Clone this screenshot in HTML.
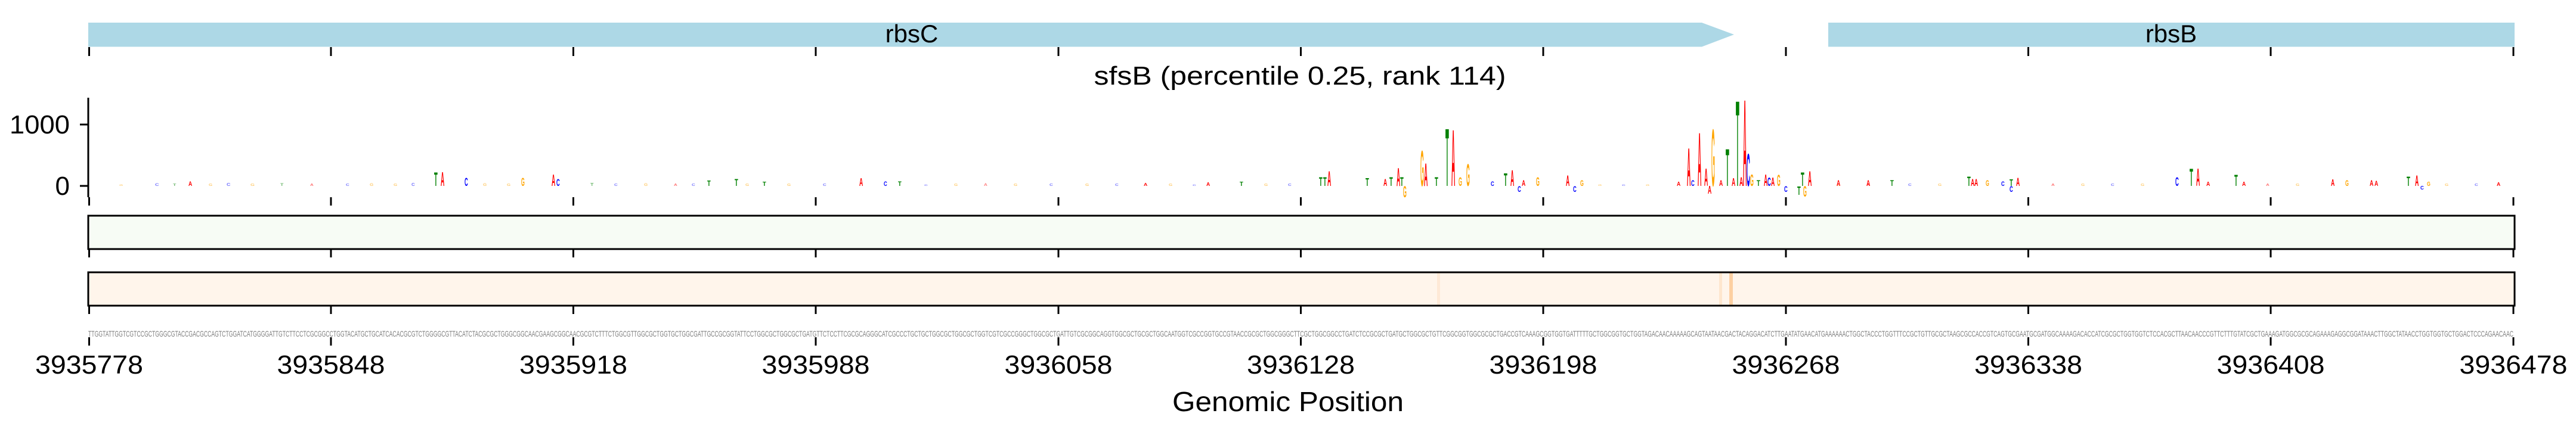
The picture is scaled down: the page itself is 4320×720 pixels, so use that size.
<!DOCTYPE html>
<html><head><meta charset="utf-8"><style>
html,body{margin:0;padding:0;background:#fff;}
svg{display:block;}
.lg text{font-family:"Liberation Sans",sans-serif;font-size:100px;font-weight:bold;}
.lab{font-family:"Liberation Sans","DejaVu Sans",sans-serif;fill:#000;}
</style></head><body>
<svg width="4320" height="720" viewBox="0 0 4320 720" xmlns="http://www.w3.org/2000/svg">
<!-- gene track -->
<polygon points="148,38 2854,38 2908,58 2854,78.5 148,78.5" fill="#add8e6"/>
<rect x="3066" y="38" width="1151" height="40.5" fill="#add8e6"/>
<text class="lab" x="1529" y="71" font-size="42" text-anchor="middle">rbsC</text>
<text class="lab" x="3641" y="71" font-size="42" text-anchor="middle">rbsB</text>
<g stroke="#000" stroke-width="3">
<path d="M149.5,79v15M555,79v15M961.5,79v15M1368,79v15M1775,79v15M2181.5,79v15M2588,79v15M2995,79v15M3401.5,79v15M3808,79v15M4215,79v15"/>
</g>
<text class="lab" x="2180" y="142" font-size="44" text-anchor="middle" textLength="691" lengthAdjust="spacingAndGlyphs">sfsB (percentile 0.25, rank 114)</text>
<!-- logo axis -->
<g stroke="#000" stroke-width="3">
<path d="M148,164V331"/>
<path d="M134,209h14M134,312h14"/>
<path d="M149.5,331v14M555,331v14M961.5,331v14M1368,331v14M1775,331v14M2181.5,331v14M2588,331v14M2995,331v14M3401.5,331v14M3808,331v14M4215,331v14"/>
</g>
<text class="lab" x="117" y="224" font-size="44" text-anchor="end" textLength="101" lengthAdjust="spacingAndGlyphs">1000</text>
<text class="lab" x="117" y="327" font-size="44" text-anchor="end">0</text>
<!-- noise -->
<g class="lg" opacity="0.55">
<text transform="translate(200,312) scale(0.08,0.04)" fill="#ffa500">G</text>
<text transform="translate(260,312) scale(0.09,0.06)" fill="#0000ff">C</text>
<text transform="translate(290,312) scale(0.09,0.05)" fill="#008000">T</text>
<text transform="translate(350,312) scale(0.08,0.05)" fill="#ffa500">G</text>
<text transform="translate(380,312) scale(0.09,0.07)" fill="#0000ff">C</text>
<text transform="translate(420,312) scale(0.09,0.05)" fill="#ffa500">G</text>
<text transform="translate(470,312) scale(0.09,0.06)" fill="#008000">T</text>
<text transform="translate(520,312) scale(0.08,0.05)" fill="#ff0000">A</text>
<text transform="translate(580,312) scale(0.08,0.05)" fill="#0000ff">C</text>
<text transform="translate(620,312) scale(0.08,0.06)" fill="#ffa500">G</text>
<text transform="translate(660,312) scale(0.08,0.05)" fill="#ffa500">G</text>
<text transform="translate(690,312) scale(0.08,0.07)" fill="#0000ff">C</text>
<text transform="translate(810,312) scale(0.08,0.06)" fill="#ffa500">G</text>
<text transform="translate(850,312) scale(0.08,0.05)" fill="#ffa500">G</text>
<text transform="translate(990,312) scale(0.09,0.07)" fill="#008000">T</text>
<text transform="translate(1030,312) scale(0.08,0.05)" fill="#0000ff">C</text>
<text transform="translate(1080,312) scale(0.08,0.06)" fill="#ffa500">G</text>
<text transform="translate(1130,312) scale(0.08,0.05)" fill="#ff0000">A</text>
<text transform="translate(1160,312) scale(0.08,0.05)" fill="#0000ff">C</text>
<text transform="translate(1250,312) scale(0.08,0.05)" fill="#ffa500">G</text>
<text transform="translate(1320,312) scale(0.08,0.05)" fill="#ffa500">G</text>
<text transform="translate(1380,312) scale(0.08,0.05)" fill="#0000ff">C</text>
<text transform="translate(1550,312) scale(0.08,0.04)" fill="#0000ff">C</text>
<text transform="translate(1600,312) scale(0.08,0.05)" fill="#ffa500">G</text>
<text transform="translate(1650,312) scale(0.08,0.06)" fill="#ff0000">A</text>
<text transform="translate(1700,312) scale(0.08,0.05)" fill="#ffa500">G</text>
<text transform="translate(1760,312) scale(0.08,0.05)" fill="#0000ff">C</text>
<text transform="translate(1820,312) scale(0.08,0.05)" fill="#ffa500">G</text>
<text transform="translate(1870,312) scale(0.08,0.05)" fill="#0000ff">C</text>
<text transform="translate(1960,312) scale(0.08,0.05)" fill="#ffa500">G</text>
<text transform="translate(2000,312) scale(0.08,0.04)" fill="#0000ff">C</text>
<text transform="translate(2120,312) scale(0.08,0.05)" fill="#ffa500">G</text>
<text transform="translate(2160,312) scale(0.08,0.05)" fill="#0000ff">C</text>
<text transform="translate(2680,312) scale(0.08,0.04)" fill="#ffa500">G</text>
<text transform="translate(2720,312) scale(0.08,0.04)" fill="#0000ff">C</text>
<text transform="translate(2760,312) scale(0.08,0.04)" fill="#ffa500">G</text>
<text transform="translate(3080,312) scale(0.08,0.05)" fill="#ffa500">G</text>
<text transform="translate(3130,312) scale(0.08,0.05)" fill="#ff0000">A</text>
<text transform="translate(3200,312) scale(0.08,0.05)" fill="#0000ff">C</text>
<text transform="translate(3250,312) scale(0.08,0.05)" fill="#ffa500">G</text>
<text transform="translate(3440,312) scale(0.08,0.05)" fill="#ff0000">A</text>
<text transform="translate(3490,312) scale(0.08,0.05)" fill="#ffa500">G</text>
<text transform="translate(3540,312) scale(0.08,0.05)" fill="#0000ff">C</text>
<text transform="translate(3590,312) scale(0.08,0.05)" fill="#ffa500">G</text>
<text transform="translate(3800,312) scale(0.08,0.05)" fill="#ff0000">A</text>
<text transform="translate(3850,312) scale(0.08,0.05)" fill="#ffa500">G</text>
<text transform="translate(4100,312) scale(0.08,0.05)" fill="#ffa500">G</text>
<text transform="translate(4150,312) scale(0.08,0.05)" fill="#0000ff">C</text>
</g>
<!-- peaks -->
<g class="lg">
<text transform="translate(316,312) scale(0.087,0.112)" fill="#ff0000">A</text>
<text transform="translate(728,312) scale(0.095,0.321)" fill="#008000">T</text>
<text transform="translate(739,312) scale(0.087,0.335)" fill="#ff0000">A</text>
<text transform="translate(779,312) scale(0.08,0.196)" fill="#0000ff">C</text>
<text transform="translate(874,312) scale(0.075,0.196)" fill="#ffa500">G</text>
<text transform="translate(925,312) scale(0.087,0.279)" fill="#ff0000">A</text>
<text transform="translate(933,312) scale(0.08,0.168)" fill="#0000ff">C</text>
<text transform="translate(1186,312) scale(0.095,0.126)" fill="#008000">T</text>
<text transform="translate(1232,312) scale(0.095,0.168)" fill="#008000">T</text>
<text transform="translate(1279,312) scale(0.095,0.098)" fill="#008000">T</text>
<text transform="translate(1441,312) scale(0.087,0.182)" fill="#ff0000">A</text>
<text transform="translate(1482,312) scale(0.08,0.112)" fill="#0000ff">C</text>
<text transform="translate(1506,312) scale(0.095,0.112)" fill="#008000">T</text>
<text transform="translate(1918,312) scale(0.087,0.07)" fill="#ff0000">A</text>
<text transform="translate(2023,312) scale(0.087,0.084)" fill="#ff0000">A</text>
<text transform="translate(2079,312) scale(0.095,0.098)" fill="#008000">T</text>
<text transform="translate(2212,312) scale(0.095,0.21)" fill="#008000">T</text>
<text transform="translate(2219,312) scale(0.095,0.21)" fill="#008000">T</text>
<text transform="translate(2226,312) scale(0.087,0.349)" fill="#ff0000">A</text>
<text transform="translate(2290,312) scale(0.095,0.182)" fill="#008000">T</text>
<text transform="translate(2320,312) scale(0.087,0.168)" fill="#ff0000">A</text>
<text transform="translate(2330,312) scale(0.095,0.21)" fill="#008000">T</text>
<text transform="translate(2342,312) scale(0.087,0.433)" fill="#ff0000">A</text>
<text transform="translate(2348,312) scale(0.095,0.21)" fill="#008000">T</text>
<text transform="translate(2353,331) scale(0.075,0.265)" fill="#ffa500">G</text>
<text transform="translate(2382,312) scale(0.075,0.852)" fill="#ffa500">G</text>
<text transform="translate(2388,312) scale(0.087,0.545)" fill="#ff0000">A</text>
<text transform="translate(2406,312) scale(0.095,0.21)" fill="#008000">T</text>
<text transform="translate(2424,312) scale(0.095,1.383)" fill="#008000">T</text>
<text transform="translate(2434,312) scale(0.087,1.355)" fill="#ff0000">A</text>
<text transform="translate(2446,312) scale(0.075,0.21)" fill="#ffa500">G</text>
<text transform="translate(2459,312) scale(0.075,0.531)" fill="#ffa500">G</text>
<text transform="translate(2500,312) scale(0.08,0.112)" fill="#0000ff">C</text>
<text transform="translate(2522,312) scale(0.095,0.307)" fill="#008000">T</text>
<text transform="translate(2533,312) scale(0.087,0.377)" fill="#ff0000">A</text>
<text transform="translate(2545,322) scale(0.08,0.14)" fill="#0000ff">C</text>
<text transform="translate(2552,312) scale(0.087,0.14)" fill="#ff0000">A</text>
<text transform="translate(2576,312) scale(0.075,0.21)" fill="#ffa500">G</text>
<text transform="translate(2626,312) scale(0.087,0.251)" fill="#ff0000">A</text>
<text transform="translate(2638,322) scale(0.08,0.14)" fill="#0000ff">C</text>
<text transform="translate(2650,312) scale(0.075,0.14)" fill="#ffa500">G</text>
<text transform="translate(2812,312) scale(0.087,0.098)" fill="#ff0000">A</text>
<text transform="translate(2829,312) scale(0.087,0.908)" fill="#ff0000">A</text>
<text transform="translate(2836,312) scale(0.08,0.14)" fill="#0000ff">C</text>
<text transform="translate(2847,312) scale(0.087,1.285)" fill="#ff0000">A</text>
<text transform="translate(2858,312) scale(0.087,0.419)" fill="#ff0000">A</text>
<text transform="translate(2864,325) scale(0.087,0.182)" fill="#ff0000">A</text>
<text transform="translate(2870,312) scale(0.075,1.369)" fill="#ffa500">G</text>
<text transform="translate(2883,312) scale(0.087,0.14)" fill="#ff0000">A</text>
<text transform="translate(2894,312) scale(0.095,0.894)" fill="#008000">T</text>
<text transform="translate(2904,312) scale(0.087,0.182)" fill="#ff0000">A</text>
<text transform="translate(2911,312) scale(0.095,2.053)" fill="#008000">T</text>
<text transform="translate(2917,312) scale(0.087,0.21)" fill="#ff0000">A</text>
<text transform="translate(2923,312) scale(0.087,2.081)" fill="#ff0000">A</text>
<text transform="translate(2929,312) scale(0.08,0.782)" fill="#0000ff">C</text>
<text transform="translate(2935,312) scale(0.075,0.279)" fill="#ffa500">G</text>
<text transform="translate(2946,312) scale(0.095,0.14)" fill="#008000">T</text>
<text transform="translate(2958,312) scale(0.087,0.279)" fill="#ff0000">A</text>
<text transform="translate(2964,312) scale(0.08,0.2)" fill="#0000ff">C</text>
<text transform="translate(2970,312) scale(0.087,0.2)" fill="#ff0000">A</text>
<text transform="translate(2980,312) scale(0.075,0.265)" fill="#ffa500">G</text>
<text transform="translate(2992,322) scale(0.08,0.14)" fill="#0000ff">C</text>
<text transform="translate(3014,327) scale(0.095,0.2)" fill="#008000">T</text>
<text transform="translate(3020,312) scale(0.095,0.321)" fill="#008000">T</text>
<text transform="translate(3024,330) scale(0.075,0.25)" fill="#ffa500">G</text>
<text transform="translate(3032,312) scale(0.087,0.349)" fill="#ff0000">A</text>
<text transform="translate(3080,312) scale(0.087,0.14)" fill="#ff0000">A</text>
<text transform="translate(3130,312) scale(0.087,0.14)" fill="#ff0000">A</text>
<text transform="translate(3170,312) scale(0.095,0.14)" fill="#008000">T</text>
<text transform="translate(3299,312) scale(0.095,0.223)" fill="#008000">T</text>
<text transform="translate(3305,312) scale(0.087,0.168)" fill="#ff0000">A</text>
<text transform="translate(3311,312) scale(0.087,0.168)" fill="#ff0000">A</text>
<text transform="translate(3330,312) scale(0.075,0.14)" fill="#ffa500">G</text>
<text transform="translate(3356,312) scale(0.08,0.112)" fill="#0000ff">C</text>
<text transform="translate(3370,312) scale(0.095,0.154)" fill="#008000">T</text>
<text transform="translate(3370,322) scale(0.08,0.14)" fill="#0000ff">C</text>
<text transform="translate(3381,312) scale(0.087,0.196)" fill="#ff0000">A</text>
<text transform="translate(3648,312) scale(0.08,0.21)" fill="#0000ff">C</text>
<text transform="translate(3672,312) scale(0.095,0.419)" fill="#008000">T</text>
<text transform="translate(3683,312) scale(0.087,0.419)" fill="#ff0000">A</text>
<text transform="translate(3700,312) scale(0.087,0.1)" fill="#ff0000">A</text>
<text transform="translate(3747,312) scale(0.095,0.265)" fill="#008000">T</text>
<text transform="translate(3760,312) scale(0.087,0.1)" fill="#ff0000">A</text>
<text transform="translate(3909,312) scale(0.087,0.154)" fill="#ff0000">A</text>
<text transform="translate(3933,312) scale(0.075,0.14)" fill="#ffa500">G</text>
<text transform="translate(3974,312) scale(0.087,0.14)" fill="#ff0000">A</text>
<text transform="translate(3982,312) scale(0.087,0.12)" fill="#ff0000">A</text>
<text transform="translate(4036,312) scale(0.095,0.223)" fill="#008000">T</text>
<text transform="translate(4050,312) scale(0.087,0.251)" fill="#ff0000">A</text>
<text transform="translate(4059,318) scale(0.08,0.084)" fill="#0000ff">C</text>
<text transform="translate(4070,312) scale(0.075,0.1)" fill="#ffa500">G</text>
<text transform="translate(4187,312) scale(0.087,0.084)" fill="#ff0000">A</text>
</g>
<!-- heatmap 1 -->
<rect x="148" y="362" width="4069" height="56" fill="#f7fcf5" stroke="#000" stroke-width="3"/>
<g stroke="#000" stroke-width="3">
<path d="M149.5,418v14M555,418v14M961.5,418v14M1368,418v14M1775,418v14M2181.5,418v14M2588,418v14M2995,418v14M3401.5,418v14M3808,418v14M4215,418v14"/>
</g>
<!-- heatmap 2 -->
<rect x="148" y="457" width="4069" height="56" fill="#fff5eb" stroke="#000" stroke-width="3"/>
<rect x="2410" y="458.5" width="5" height="53" fill="#fee9d6"/>
<rect x="2883" y="458.5" width="5" height="53" fill="#fee6ce"/>
<rect x="2900" y="458.5" width="6" height="53" fill="#fdd0a2"/>
<g stroke="#000" stroke-width="3">
<path d="M149.5,513v14M555,513v14M961.5,513v14M1368,513v14M1775,513v14M2181.5,513v14M2588,513v14M2995,513v14M3401.5,513v14M3808,513v14M4215,513v14"/>
</g>
<!-- sequence -->
<text x="148" y="565" font-family="Liberation Sans, sans-serif" font-size="14" fill="#808080" textLength="4067" lengthAdjust="spacingAndGlyphs">TTGGTATTGGTCGTCCGCTGGGCGTACCGACGCCAGTCTGGATCATGGGGATTGTCTTCCTCGCGGCCTGGTACATGCTGCATCACACGCGTCTGGGGCGTTACATCTACGCGCTGGGCGGCAACGAAGCGGCAACGCGTCTTTCTGGCGTTGGCGCTGGTGCTGGCGATTGCCGCGGTATTCCTGGCGCTGGCGCTGATGTTCTCCTTCGCGCAGGGCATCGCCCTGCTGCTGGCGCTGGCGCTGGTCGTCGCCGGGCTGGCGCTGATTGTCGCGGCAGGTGGCGCTGCGCTGGCAATGGTCGCCGGTGCCGTAACCGCGCTGGCGGGCTTCGCTGGCGGCCTGATCTCCGCGCTGATGCTGGCGCTGTTCGGCGGTGGCGCGCTGACCGTCAAAGCGGTGGTGATTTTTGCTGGCGGTGCTGGTAGACAACAAAAAGCAGTAATAACGACTACAGGACATCTTGAATATGAACATGAAAAAACTGGCTACCCTGGTTTCCGCTGTTGCGCTAAGCGCCACCGTCAGTGCGAATGCGATGGCAAAAGACACCATCGCGCTGGTGGTCTCCACGCTTAACAACCCGTTCTTTGTATCGCTGAAAGATGGCGCGCAGAAAGAGGCGGATAAACTTGGCTATAACCTGGTGGTGCTGGACTCCCAGAACAAC</text>
<g stroke="#000" stroke-width="3">
<path d="M149.5,566v14M555,566v14M961.5,566v14M1368,566v14M1775,566v14M2181.5,566v14M2588,566v14M2995,566v14M3401.5,566v14M3808,566v14M4215,566v14"/>
</g>
<g class="lab" font-size="44" text-anchor="middle">
<text x="149.5" y="627" textLength="181" lengthAdjust="spacingAndGlyphs">3935778</text>
<text x="555" y="627" textLength="181" lengthAdjust="spacingAndGlyphs">3935848</text>
<text x="961.5" y="627" textLength="181" lengthAdjust="spacingAndGlyphs">3935918</text>
<text x="1368" y="627" textLength="181" lengthAdjust="spacingAndGlyphs">3935988</text>
<text x="1775" y="627" textLength="181" lengthAdjust="spacingAndGlyphs">3936058</text>
<text x="2181.5" y="627" textLength="181" lengthAdjust="spacingAndGlyphs">3936128</text>
<text x="2588" y="627" textLength="181" lengthAdjust="spacingAndGlyphs">3936198</text>
<text x="2995" y="627" textLength="181" lengthAdjust="spacingAndGlyphs">3936268</text>
<text x="3401.5" y="627" textLength="181" lengthAdjust="spacingAndGlyphs">3936338</text>
<text x="3808" y="627" textLength="181" lengthAdjust="spacingAndGlyphs">3936408</text>
<text x="4215" y="627" textLength="181" lengthAdjust="spacingAndGlyphs">3936478</text>
</g>
<text class="lab" x="2160" y="690" font-size="46" text-anchor="middle" textLength="388" lengthAdjust="spacingAndGlyphs">Genomic Position</text>
</svg>
</body></html>
